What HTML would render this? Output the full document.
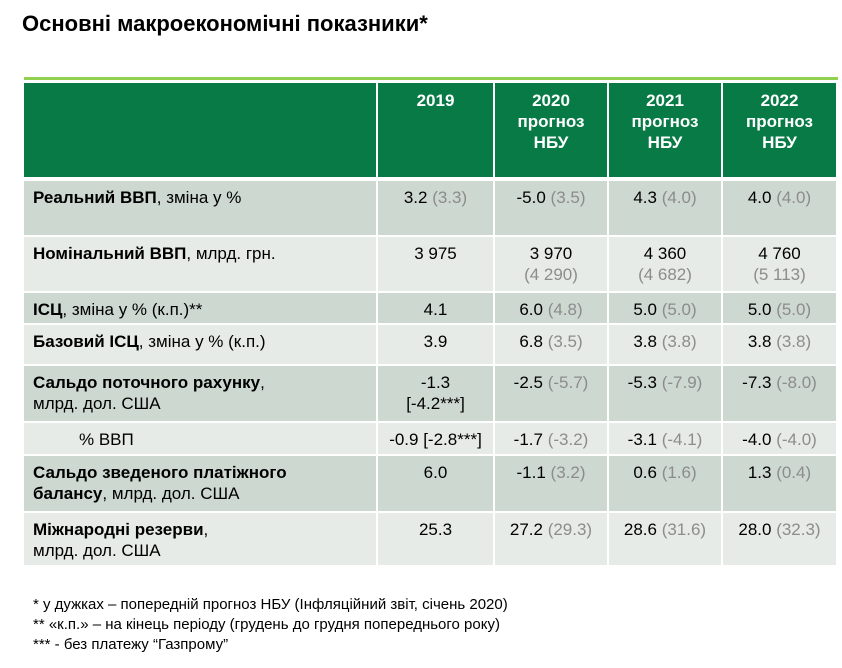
<!DOCTYPE html>
<html><head><meta charset="utf-8"><style>
body{margin:0;width:842px;height:668px;background:#fff;font-family:"Liberation Sans",Arial,sans-serif;position:relative;overflow:hidden}
.t{position:absolute;left:22px;top:11px;font-size:22px;font-weight:bold;color:#000}
.gl{position:absolute;left:24px;top:77px;width:814px;height:3px;background:#92d050}
.c{position:absolute;box-sizing:border-box;font-size:17px;color:#000;line-height:21px;padding-top:6px}
.h{background:#077a45;color:#fff;font-weight:bold;text-align:center;padding-top:7px;line-height:21px}
.d{background:#cdd8d0}.l{background:#e6ebe7}
.n{text-align:center}
.p{padding-left:9px}
.g{color:#8c8c8c}
.f{position:absolute;left:33px;font-size:15px;color:#000}
</style></head><body>
<div class="t">Основні макроекономічні показники*</div>
<div class="gl"></div>
<div id="tbl"></div>
<div class="f" style="top:596px">* у дужках – попередній прогноз НБУ (Інфляційний звіт, січень 2020)</div>
<div class="f" style="top:616px">** «к.п.» – на кінець періоду (грудень до грудня попереднього року)</div>
<div class="f" style="top:636px">*** - без платежу “Газпрому”</div>
<script>
const colX=[24,378,495,609,723,838];
const rowY=[83,181,237,293,325,366,423,456,513,567];
const headers=["","2019","2020<br>прогноз<br>НБУ","2021<br>прогноз<br>НБУ","2022<br>прогноз<br>НБУ"];
const labels=["<b>Реальний ВВП</b>, зміна у %","<b>Номінальний ВВП</b>, млрд. грн.","<b>ІСЦ</b>, зміна у % (к.п.)**","<b>Базовий ІСЦ</b>, зміна у % (к.п.)","<b>Сальдо поточного рахунку</b>,<br>млрд. дол. США","<span style='padding-left:46px'>% ВВП</span>","<b>Сальдо зведеного платіжного<br>балансу</b>, млрд. дол. США","<b>Міжнародні резерви</b>,<br>млрд. дол. США"];
const vals=[
["3.2 <span class=g>(3.3)</span>","-5.0 <span class=g>(3.5)</span>","4.3 <span class=g>(4.0)</span>","4.0 <span class=g>(4.0)</span>"],
["3 975","3 970<br><span class=g>(4 290)</span>","4 360<br><span class=g>(4 682)</span>","4 760<br><span class=g>(5 113)</span>"],
["4.1","6.0 <span class=g>(4.8)</span>","5.0 <span class=g>(5.0)</span>","5.0 <span class=g>(5.0)</span>"],
["3.9","6.8 <span class=g>(3.5)</span>","3.8 <span class=g>(3.8)</span>","3.8 <span class=g>(3.8)</span>"],
["-1.3<br>[-4.2***]","-2.5 <span class=g>(-5.7)</span>","-5.3 <span class=g>(-7.9)</span>","-7.3 <span class=g>(-8.0)</span>"],
["-0.9 [-2.8***]","-1.7 <span class=g>(-3.2)</span>","-3.1 <span class=g>(-4.1)</span>","-4.0 <span class=g>(-4.0)</span>"],
["6.0","-1.1 <span class=g>(3.2)</span>","0.6 <span class=g>(1.6)</span>","1.3 <span class=g>(0.4)</span>"],
["25.3","27.2 <span class=g>(29.3)</span>","28.6 <span class=g>(31.6)</span>","28.0 <span class=g>(32.3)</span>"]];
const tbl=document.getElementById('tbl');
function cell(cls,html,r,c,name){
  const d=document.createElement('div');
  d.className='c '+cls;
  d.style.left=colX[c]+'px';d.style.width=(colX[c+1]-colX[c]-2)+'px';
  d.style.top=rowY[r]+'px';d.style.height=(rowY[r+1]-rowY[r]-2-(r==0?2:0))+'px';
  d.innerHTML=html;
  
  
  tbl.appendChild(d);
}
for(let c=0;c<5;c++) cell('h',headers[c],0,c,'header-cell');
for(let r=0;r<8;r++){
  const bg=(r%2==0)?'d':'l';
  cell(bg+' p',labels[r],r+1,0,'row-label');
  for(let c=0;c<4;c++) cell(bg+' n',vals[r][c],r+1,c+1,'value-cell');
}
</script>
</body></html>
